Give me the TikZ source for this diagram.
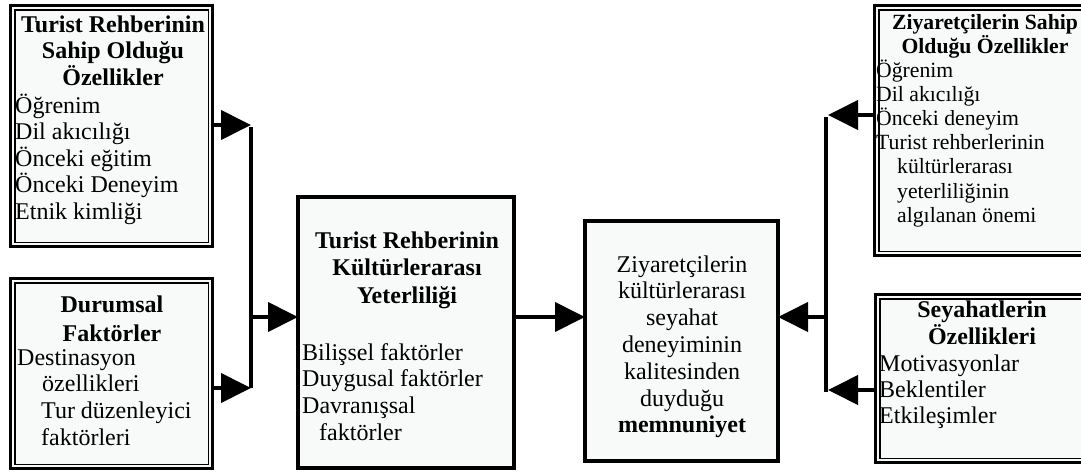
\documentclass[tikz,border=0pt]{standalone}
\usepackage{fontspec}
\setmainfont{Liberation Serif}
\usetikzlibrary{arrows.meta}
\definecolor{boxfill}{RGB}{248,250,250}
\newcommand\linesL[2]{\vtop{\baselineskip=#1\lineskiplimit=-30pt\lineskip=0pt\halign{##\hfil\cr#2\crcr}}}
\newcommand\linesC[2]{\vtop{\baselineskip=#1\lineskiplimit=-30pt\lineskip=0pt\halign{\hfil##\hfil\cr#2\crcr}}}
\begin{document}
\begin{tikzpicture}[x=1pt,y=-1pt,
  dbox/.style={rectangle,draw=black,fill=boxfill,line width=3pt,inner sep=0pt,outer sep=0pt},
  innerline/.style={draw=black,line width=1.5pt},
  tbox/.style={rectangle,draw=black,fill=boxfill,line width=4pt,inner sep=0pt,outer sep=0pt},
  txt/.style={inner sep=0pt,font=\fontsize{24}{26.7}\selectfont},
  btxt/.style={inner sep=0pt,font=\fontsize{24}{26.7}\selectfont\bfseries},
  stxt/.style={inner sep=0pt,font=\fontsize{21.7}{24}\selectfont},
  sbtxt/.style={inner sep=0pt,font=\fontsize{21.7}{24}\selectfont\bfseries},
  arr/.style={line width=4pt,-{Triangle[length=30pt,width=29pt]}},
  bar/.style={line width=4pt}]
\useasboundingbox (0,0) rectangle (1081,471);
\clip (0,0) rectangle (1081,471);
% boxes
\node[dbox,minimum width=202pt,minimum height=241pt] (B1) at (111.5,126) {};
\node[dbox,minimum width=202pt,minimum height=190pt] (B2) at (111.5,373.5) {};
\node[tbox,minimum width=216pt,minimum height=271pt] (C1) at (406,332.5) {};
\node[tbox,minimum width=193pt,minimum height=240pt] (C2) at (681.5,341) {};
\node[dbox,minimum width=220.5pt,minimum height=250pt] (R1) at (984.75,130.5) {};
\node[dbox,minimum width=219.5pt,minimum height=168pt] (R2) at (985.25,378.5) {};
\foreach \b in {B1,B2,R1,R2}
  \draw[innerline] ([shift={(4.25,4.25)}]\b.north west) rectangle ([shift={(-4.25,-4.25)}]\b.south east);
% texts
\node[btxt,anchor=base] (B1t) at (113,32) {\linesC{26.7pt}{Turist Rehberinin\cr Sahip Olduğu\cr Özellikler}};
\node[txt,anchor=base west] (B1b) at (15,113) {\linesL{26.5pt}{Öğrenim\cr Dil akıcılığı\cr Önceki eğitim\cr Önceki Deneyim\cr Etnik kimliği}};
\node[btxt,anchor=base] (B2t) at (112,312) {\linesC{29pt}{Durumsal\cr Faktörler}};
\node[txt,anchor=base west] (B2b) at (17,365) {\linesL{26.7pt}{Destinasyon\cr \hskip25pt özellikleri\cr \hskip24pt Tur düzenleyici\cr \hskip24pt faktörleri}};
\node[btxt,anchor=base] (C1t) at (407,248) {\linesC{27.5pt}{Turist Rehberinin\cr Kültürlerarası\cr Yeterliliği}};
\node[txt,anchor=base west] (C1b) at (302,360) {\linesL{26.7pt}{Bilişsel faktörler\cr Duygusal faktörler\cr Davranışsal\cr \hskip17pt faktörler}};
\node[txt,anchor=base] (C2t) at (682,272) {\linesC{26.8pt}{Ziyaretçilerin\cr kültürlerarası\cr seyahat\cr deneyiminin\cr kalitesinden\cr duyduğu\cr \textbf{memnuniyet}}};
\node[sbtxt,anchor=base] (R1t) at (985,29.5) {\linesC{24pt}{Ziyaretçilerin Sahip\cr Olduğu Özellikler}};
\node[stxt,anchor=base west] (R1b) at (876,77) {\linesL{24.2pt}{Öğrenim\cr Dil akıcılığı\cr Önceki deneyim\cr Turist rehberlerinin\cr \hskip21pt kültürlerarası\cr \hskip21pt yeterliliğinin\cr \hskip21pt algılanan önemi}};
\node[btxt,anchor=base] (R2t) at (982,317) {\linesC{27pt}{Seyahatlerin\cr Özellikleri}};
\node[txt,anchor=base west] (R2b) at (879,371) {\linesL{26pt}{Motivasyonlar\cr Beklentiler\cr Etkileşimler}};
% connectors left
\coordinate (jl1) at (251,125);
\coordinate (jl2) at (251,388);
\coordinate (jl3) at (251,317);
\draw[bar] ([yshift=-2pt]jl1) -- (jl2);
\draw[arr] (B1.east |- jl1) -- (jl1);
\draw[arr] (B2.east |- jl2) -- (jl2);
\draw[arr] (jl3) -- (C1.west |- jl3);
\draw[arr] (C1.east |- jl3) -- (C2.west |- jl3);
% connectors right
\coordinate (jr1) at (826,115);
\coordinate (jr2) at (826,390);
\coordinate (jr3) at (826,317);
\draw[bar] ([yshift=-2pt]jr1) -- ([yshift=-2pt]jr2);
\draw[arr] (R1.west |- jr1) -- ([xshift=2pt]jr1);
\draw[arr] (R2.west |- jr2) -- ([xshift=2pt]jr2);
\draw[arr] (jr3) -- (C2.east |- jr3);
\end{tikzpicture}
\end{document}
